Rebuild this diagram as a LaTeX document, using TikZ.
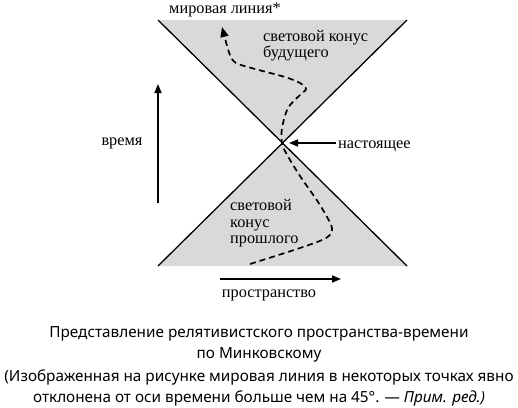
\documentclass[tikz,border=0pt]{standalone}
\usepackage{fontspec}
\setmainfont{Liberation Serif}
\newfontfamily\capfont{Noto Sans}
\usetikzlibrary{arrows.meta}
\definecolor{conegray}{RGB}{217,217,217}
\tikzset{
  conefill/.style={fill=conegray},
  coneline/.style={draw=black, line width=1.3pt},
  worldline/.style={draw=black, line width=1.7pt, dash pattern=on 6pt off 4pt},
  axisarrow/.style={draw=black, line width=1.5pt, -{Triangle[length=9pt,width=7pt]}},
  lbl/.style={font=\fontsize{16.3}{16.3}\selectfont, inner sep=0pt},
  captext/.style={font=\capfont\fontsize{15.3}{18}\selectfont, inner sep=0pt, anchor=base}
}
\begin{document}
\begin{tikzpicture}[x=1pt,y=-1pt]
\useasboundingbox (0,0) rectangle (518,407);
\coordinate (O) at (282,143);
\coordinate (TL) at (158,20);
\coordinate (TR) at (407,20);
\coordinate (BL) at (158,266);
\coordinate (BR) at (407,266);
\fill[conefill] (TL) -- (TR) -- (O) -- cycle;
\fill[conefill] (BL) -- (BR) -- (O) -- cycle;
\draw[coneline] (TL) -- (BR);
\draw[coneline] (TR) -- (BL);
% world line
\draw[worldline, -{Triangle[length=10pt,width=8pt]}] plot[smooth, tension=0.5] coordinates {
 (250,264) (300,248) (326,238) (332,228) (320,205) (300,176) (286,153) (282,143)
 (282,128) (288,108) (300,95) (306,89) (300,83) (285,77) (255,69) (236,63) (230,55) (226,42) (222,27)};
% time axis
\coordinate (t0) at (158,203);
\coordinate (t1) at (158,84);
\draw[axisarrow] (t0) -- (t1);
\node[lbl, anchor=base] (time) at (122,145) {время};
% space axis
\coordinate (s0) at (220,279);
\coordinate (s1) at (341,279);
\draw[axisarrow] (s0) -- (s1);
\node[lbl, anchor=base] (space) at (269,297) {пространство};
% now
\node[lbl, anchor=base west] (now) at (338,148) {настоящее};
\coordinate (nowtail) at (336,143);
\draw[axisarrow, shorten >=7pt] (nowtail) -- (O);
% labels
\node[lbl, anchor=base] (wl) at (225,13) {мировая линия*};
\node[lbl, anchor=base west] (fut1) at (263,41.5) {световой конус};
\node[lbl, anchor=base west] (fut2) at (263,57) {будущего};
\node[lbl, anchor=base west] (past1) at (230,210) {световой};
\node[lbl, anchor=base west] (past2) at (230,227) {конус};
\node[lbl, anchor=base west] (past3) at (230,243) {прошлого};
% caption
\node[captext] (c1) at (259,337) {Представление релятивистского пространства-времени};
\node[captext] (c2) at (259,358.5) {по Минковскому};
\node[captext] (c3) at (259,381) {(Изображенная на рисунке мировая линия в некоторых точках явно};
\node[captext] (c4) at (259,402.5) {отклонена от оси времени больше чем на 45°. — \textit{Прим. ред.)}};
\end{tikzpicture}
\end{document}
